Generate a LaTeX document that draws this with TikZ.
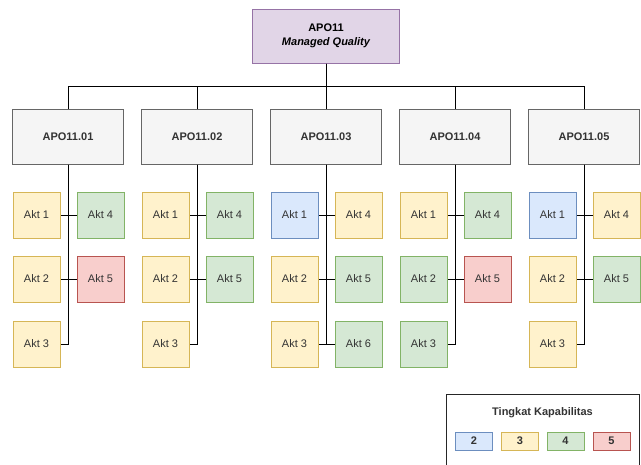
\documentclass[tikz,border=0pt]{standalone}
\usepackage{fontspec}
\setmainfont{Liberation Sans}
\usetikzlibrary{positioning}
\definecolor{purplefill}{HTML}{E1D5E7}\definecolor{purpleline}{HTML}{9673A6}
\definecolor{grayfill}{HTML}{F5F5F5}\definecolor{grayline}{HTML}{666666}
\definecolor{bluefill}{HTML}{DAE8FC}\definecolor{blueline}{HTML}{6C8EBF}
\definecolor{yellowfill}{HTML}{FFF2CC}\definecolor{yellowline}{HTML}{D6B656}
\definecolor{greenfill}{HTML}{D5E8D4}\definecolor{greenline}{HTML}{82B366}
\definecolor{redfill}{HTML}{F8CECC}\definecolor{redline}{HTML}{B85450}
\definecolor{textgray}{HTML}{333333}
\tikzset{
  box/.style={draw, line width=0.75pt, inner sep=0pt, text=textgray, font=\fontsize{8.25}{10.5}\selectfont},
  topbox/.style={box, fill=purplefill, draw=purpleline, text=black, minimum width=110.25pt, minimum height=40.5pt, align=center, font=\fontsize{8.25}{10.5}\selectfont\bfseries},
  subbox/.style={box, fill=grayfill, draw=grayline, minimum width=83.25pt, minimum height=41.25pt, font=\fontsize{8.25}{10.5}\selectfont\bfseries},
  akt/.style={box, minimum width=35.25pt, minimum height=34.5pt},
  lv2/.style={fill=bluefill, draw=blueline},
  lv3/.style={fill=yellowfill, draw=yellowline},
  lv4/.style={fill=greenfill, draw=greenline},
  lv5/.style={fill=redfill, draw=redline},
  swatch/.style={box, minimum width=27.75pt, minimum height=13.5pt, font=\fontsize{8.25}{10.5}\selectfont\bfseries},
  link/.style={line width=0.75pt, black}
}

\begin{document}
\begin{tikzpicture}[x=0.75pt, y=-0.75pt]
			%%%%% START %%%%%
			
			\clip (0, 0) rectangle (641, 464);
			
			\node[topbox] (apo) at (326, 36) {APO11\\\itshape Managed Quality};
			
			\node[subbox] (apo1) at (68, 136.5) {APO11.01};
			\node[subbox] (apo2) at (197, 136.5) {APO11.02};
			\node[subbox] (apo3) at (326, 136.5) {APO11.03};
			\node[subbox] (apo4) at (455, 136.5) {APO11.04};
			\node[subbox] (apo5) at (584, 136.5) {APO11.05};
			
			\draw[link] (apo.south) -- ++(0, 23) -| (apo1.north);
			\draw[link] (apo.south) -- ++(0, 23) -| (apo2.north);
			\draw[link] (apo.south) -- (apo3.north);
			\draw[link] (apo.south) -- ++(0, 23) -| (apo4.north);
			\draw[link] (apo.south) -- ++(0, 23) -| (apo5.north);
			
			% APO11.01
			\node[akt, lv3] (a11) at (36.5, 215) {Akt 1};
			\node[akt, lv3] (a12) at (36.5, 279) {Akt 2};
			\node[akt, lv3] (a13) at (36.5, 344) {Akt 3};
			\node[akt, lv4] (a14) at (100.5, 215) {Akt 4};
			\node[akt, lv5] (a15) at (100.5, 279) {Akt 5};
			\draw[link] (apo1.south) |- (a11.east);
			\draw[link] (apo1.south) |- (a12.east);
			\draw[link] (apo1.south) |- (a13.east);
			\draw[link] (apo1.south) |- (a14.west);
			\draw[link] (apo1.south) |- (a15.west);
			
			% APO11.02
			\node[akt, lv3] (a21) at (165.5, 215) {Akt 1};
			\node[akt, lv3] (a22) at (165.5, 279) {Akt 2};
			\node[akt, lv3] (a23) at (165.5, 344) {Akt 3};
			\node[akt, lv4] (a24) at (229.5, 215) {Akt 4};
			\node[akt, lv4] (a25) at (229.5, 279) {Akt 5};
			\draw[link] (apo2.south) |- (a21.east);
			\draw[link] (apo2.south) |- (a22.east);
			\draw[link] (apo2.south) |- (a23.east);
			\draw[link] (apo2.south) |- (a24.west);
			\draw[link] (apo2.south) |- (a25.west);
			
			% APO11.03
			\node[akt, lv2] (a31) at (294.5, 215) {Akt 1};
			\node[akt, lv3] (a32) at (294.5, 279) {Akt 2};
			\node[akt, lv3] (a33) at (294.5, 344) {Akt 3};
			\node[akt, lv3] (a34) at (358.5, 215) {Akt 4};
			\node[akt, lv4] (a35) at (358.5, 279) {Akt 5};
			\node[akt, lv4] (a36) at (358.5, 344) {Akt 6};
			\draw[link] (apo3.south) |- (a31.east);
			\draw[link] (apo3.south) |- (a32.east);
			\draw[link] (apo3.south) |- (a33.east);
			\draw[link] (apo3.south) |- (a34.west);
			\draw[link] (apo3.south) |- (a35.west);
			\draw[link] (apo3.south) |- (a36.west);
			
			% APO11.04
			\node[akt, lv3] (a41) at (423.5, 215) {Akt 1};
			\node[akt, lv4] (a42) at (423.5, 279) {Akt 2};
			\node[akt, lv4] (a43) at (423.5, 344) {Akt 3};
			\node[akt, lv4] (a44) at (487.5, 215) {Akt 4};
			\node[akt, lv5] (a45) at (487.5, 279) {Akt 5};
			\draw[link] (apo4.south) |- (a41.east);
			\draw[link] (apo4.south) |- (a42.east);
			\draw[link] (apo4.south) |- (a43.east);
			\draw[link] (apo4.south) |- (a44.west);
			\draw[link] (apo4.south) |- (a45.west);
			
			% APO11.05
			\node[akt, lv2] (a51) at (552.5, 215) {Akt 1};
			\node[akt, lv3] (a52) at (552.5, 279) {Akt 2};
			\node[akt, lv3] (a53) at (552.5, 344) {Akt 3};
			\node[akt, lv3] (a54) at (616.5, 215) {Akt 4};
			\node[akt, lv4] (a55) at (616.5, 279) {Akt 5};
			\draw[link] (apo5.south) |- (a51.east);
			\draw[link] (apo5.south) |- (a52.east);
			\draw[link] (apo5.south) |- (a53.east);
			\draw[link] (apo5.south) |- (a54.west);
			\draw[link] (apo5.south) |- (a55.west);
			
			% legend
			\node[box, draw=black!85, fill=white, minimum width=144.75pt, minimum height=60pt] (legend) at (542.5, 434) {};
			\node[font=\fontsize{8.25}{10.5}\selectfont\bfseries, text=textgray] (legtitle) at (542.5, 413) {Tingkat Kapabilitas};
			\node[swatch, lv2] (leg2) at (474, 441) {2};
			\node[swatch, lv3] (leg3) at (520, 441) {3};
			\node[swatch, lv4] (leg4) at (565.5, 441) {4};
			\node[swatch, lv5] (leg5) at (611.5, 441) {5};
			
			%%%%% END %%%%%
		\end{tikzpicture}
\end{document}
